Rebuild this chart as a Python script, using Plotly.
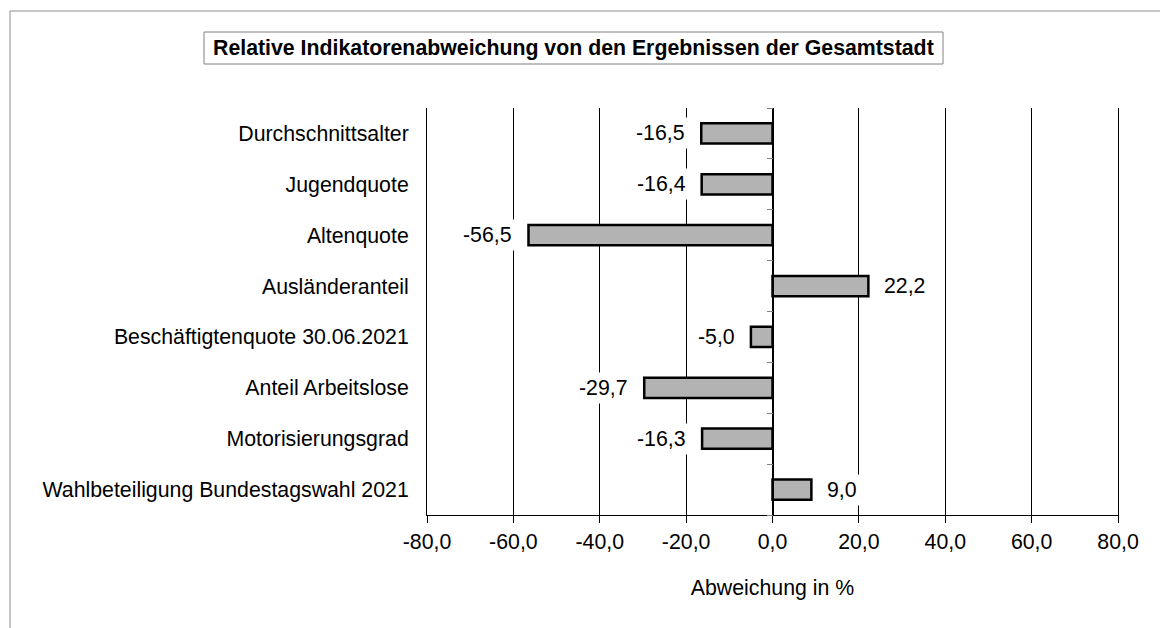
import plotly.graph_objects as go

categories = [
    "Durchschnittsalter",
    "Jugendquote",
    "Altenquote",
    "Ausländeranteil",
    "Beschäftigtenquote 30.06.2021",
    "Anteil Arbeitslose",
    "Motorisierungsgrad",
    "Wahlbeteiligung Bundestagswahl 2021",
]
values = [-16.5, -16.4, -56.5, 22.2, -5.0, -29.7, -16.3, 9.0]
x_tickvals = [-80, -60, -40, -20, 0, 20, 40, 60, 80]
x_ticktext = ["-80,0", "-60,0", "-40,0", "-20,0", "0,0", "20,0", "40,0", "60,0", "80,0"]
title_text = "Relative Indikatorenabweichung von den Ergebnissen der Gesamtstadt"
x_title = "Abweichung in %"

FONT = "Liberation Sans, Arial, sans-serif"
FS = 21.3

# page offset (body margin) and plot area in screen pixels
OFF = 8
W, H = 1160, 620
PL, PR, PT, PB = 427, 1118, 108, 515  # plot area edges on screen
L, T = PL - OFF, PT - OFF
R = OFF + W - PR
B = OFF + H - PB
pw, ph = PR - PL, PB - PT


def px_x(p):
    return (p - PL) / pw


def px_y(q):
    return (PB - q) / ph


fig = go.Figure()
fig.add_trace(go.Bar(
    y=categories, x=values, orientation="h",
    width=0.4,
    marker=dict(color="#b3b3b3", line=dict(color="black", width=2.5)),
    hoverinfo="skip",
))
# invisible trace for the zero-axis ticks
fig.add_trace(go.Scatter(x=[None], y=[None], yaxis="y2", showlegend=False))

for c, v in zip(categories, values):
    fig.add_annotation(
        x=v, y=c, xref="x", yref="y",
        text=f"{v:.1f}".replace(".", ","),
        showarrow=False,
        xanchor="right" if v < 0 else "left",
        xshift=-12 if v < 0 else 12,
        bgcolor="white", borderpad=3,
        font=dict(family=FONT, size=FS, color="black"),
    )

# title box
fig.add_shape(type="rect", xref="paper", yref="paper",
              x0=px_x(204), x1=px_x(943), y0=px_y(64), y1=px_y(32),
              line=dict(color="#808080", width=1), fillcolor="white")
fig.add_annotation(
    x=px_x(573.5), y=px_y(48), xref="paper", yref="paper",
    text=f"<b>{title_text}</b>", showarrow=False,
    xanchor="center", yanchor="middle",
    font=dict(family=FONT, size=FS, color="black"),
)

# outer frame lines
fig.add_shape(type="line", xref="paper", yref="paper",
              x0=px_x(10), x1=px_x(1200), y0=px_y(11), y1=px_y(11),
              line=dict(color="#8c8c8c", width=1))
fig.add_shape(type="line", xref="paper", yref="paper",
              x0=px_x(10), x1=px_x(10), y0=px_y(11), y1=px_y(660),
              line=dict(color="#8c8c8c", width=1))

n = len(categories)
fig.update_layout(
    width=W, height=H,
    margin=dict(l=L, r=R, t=T, b=B, pad=0),
    paper_bgcolor="white", plot_bgcolor="white",
    showlegend=False, bargap=0.6,
    font=dict(family=FONT, size=FS, color="black"),
    xaxis=dict(
        range=[-80, 80], tickvals=x_tickvals, ticktext=x_ticktext,
        showgrid=True, gridcolor="black", gridwidth=1,
        zeroline=False, showline=True, linecolor="black", linewidth=1,
        ticks="outside", ticklen=7, tickcolor="black",
        title=dict(text=x_title, standoff=27, font=dict(size=FS)),
        tickfont=dict(size=FS),
    ),
    yaxis=dict(
        type="category", categoryorder="array", categoryarray=categories,
        range=[n - 0.5, -0.5],
        showgrid=False, zeroline=False,
        showline=True, mirror=True, linecolor="black", linewidth=1,
        ticks="", ticklabelstandoff=13, tickfont=dict(size=FS),
    ),
    yaxis2=dict(
        overlaying="y", anchor="free", position=0.5,
        range=[n - 0.5, -0.5],
        tickvals=[i - 0.5 for i in range(n + 1)],
        showticklabels=False, showgrid=False, zeroline=False,
        showline=True, linecolor="black", linewidth=1,
        ticks="outside", ticklen=6, tickcolor="#808080",
    ),
)

fig.write_html("out.html")
